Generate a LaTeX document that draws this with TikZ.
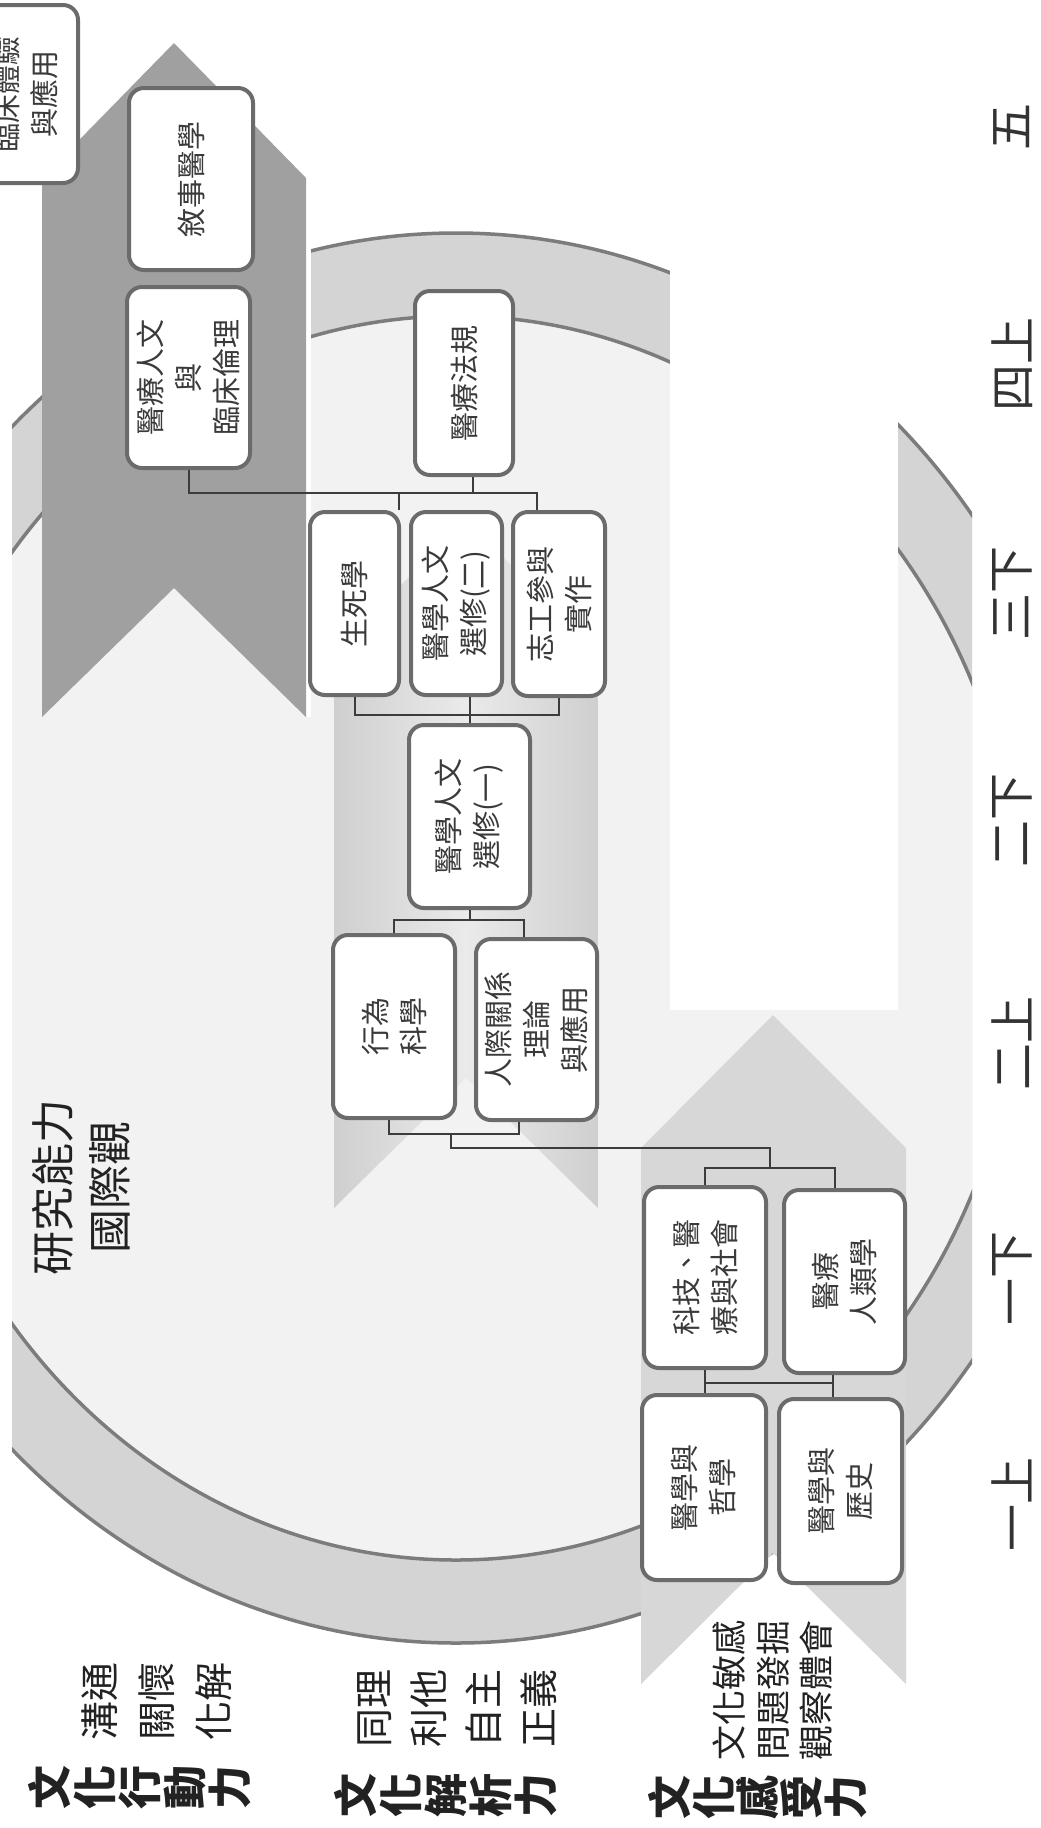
\documentclass[tikz,border=0pt]{standalone}
\usepackage{fontspec}
\newfontfamily\cjk{Noto Sans CJK TC}
\usetikzlibrary{calc}
\definecolor{ringband}{HTML}{D4D4D4}
\definecolor{ringin}{HTML}{F2F2F2}
\definecolor{ringline}{HTML}{7C7C7C}
\definecolor{darkarrow}{HTML}{A0A0A0}
\definecolor{midedge}{HTML}{CFCFCF}
\definecolor{midcenter}{HTML}{EAEAEA}
\definecolor{botchev}{HTML}{D7D7D7}
\definecolor{boxline}{HTML}{6B6B6B}
\definecolor{boxtext}{HTML}{3A3A3A}
\definecolor{conncolor}{HTML}{3C3C3C}
\definecolor{labeltext}{HTML}{222222}
\definecolor{yeartext}{HTML}{333333}
\begin{document}
\begin{tikzpicture}[x=0.5pt,y=-0.5pt,
  box/.style={draw=boxline, line width=2pt, fill=white, rounded corners=7.5pt, rotate=90,
    align=center, inner sep=0pt, text=boxtext, font=\cjk\fontsize{14.5}{19}\selectfont},
  conn/.style={draw=conncolor, line width=1pt},
  lab/.style={rotate=90, align=center, inner sep=0pt, text=labeltext},
  yearlab/.style={rotate=90, inner sep=0pt, text=yeartext, font=\cjk\fontsize{23.5}{28}\selectfont}
]
\useasboundingbox (0,0) rectangle (1040,1828);
\clip (0,0) rectangle (1040,1828);
\fill[white] (0,0) rectangle (1040,1828);

% ring
\begin{scope}
  \clip (12,0) rectangle (972,1828);
  \fill[ringband] (456,938) ellipse [x radius=322.5pt, y radius=352.5pt];
  \fill[ringin] (456,938) ellipse [x radius=283pt, y radius=311pt];
  \draw[ringline, line width=1.75pt] (456,938) ellipse [x radius=322.5pt, y radius=352.5pt];
  \draw[ringline, line width=1.75pt] (456,938) ellipse [x radius=283pt, y radius=311pt];
\end{scope}
\fill[white] (670,0) rectangle (898,1010);
\fill[white] (306,200) rectangle (311,717);

% chevrons
\fill[darkarrow] (42,178) -- (174,43) -- (306,178) -- (306,717) -- (174,588) -- (42,717) -- cycle;
\shade[left color=midedge, right color=midedge, middle color=midcenter]
  (334,652) -- (466,520) -- (598,652) -- (598,1208) -- (466,1078) -- (334,1208) -- cycle;
\fill[botchev] (641,1148) -- (773,1015) -- (906,1148) -- (906,1684) -- (773,1553) -- (641,1684) -- cycle;

% boxes
\node[box, minimum width=89pt, minimum height=53pt] (clinical) at (25,94) {臨床體驗\\與應用};
\node[box, minimum width=91pt, minimum height=62pt] (narrative) at (191,179) {敘事醫學};
\node[box, minimum width=90.5pt, minimum height=61.5pt] (ethics) at (188.5,377.5) {醫療人文\\與\\臨床倫理};
\node[box, minimum width=92pt, minimum height=49pt] (law) at (464,383) {醫療法規};
\node[box, minimum width=91.5pt, minimum height=44.5pt] (death) at (354.5,603.5) {生死學};
\node[box, minimum width=91.5pt, minimum height=45.5pt] (sel2) at (456.5,603.5) {醫學人文\\選修(二)};
\node[box, minimum width=92pt, minimum height=46pt] (volunteer) at (559,604) {志工參與\\實作};
\node[box, minimum width=91.5pt, minimum height=60.5pt] (sel1) at (469.5,816.5) {醫學人文\\選修(一)};
\node[box, minimum width=91.5pt, minimum height=61pt] (behav) at (394,1026.5) {行為\\科學};
\node[box, minimum width=90.5pt, minimum height=60.5pt] (interp) at (536.5,1029.5) {人際關係\\理論\\與應用};
\node[box, minimum width=90.5pt, minimum height=61pt] (tech) at (705,1277.5) {科技、醫\\療與社會};
\node[box, minimum width=91.5pt, minimum height=60.5pt] (anthro) at (844.5,1281.5) {醫療\\人類學};
\node[box, minimum width=92.5pt, minimum height=62pt] (philo) at (704,1487.5) {醫學與\\哲學};
\node[box, minimum width=92pt, minimum height=61.5pt] (history) at (840.5,1491) {醫學與\\歷史};

% connector reference coordinates
\coordinate (r4) at (0,493);
\coordinate (r3) at (0,715);
\coordinate (r2) at (0,920);
\coordinate (r1a) at (0,1134);
\coordinate (r1b) at (0,1148);
\coordinate (r1c) at (0,1168);
\coordinate (r0) at (0,1383);
\coordinate (v4a) at ($(volunteer.east)+(-22,0)$);
\coordinate (lawx) at ($(law.west)+(9,0)$);
\coordinate (d4a) at ($(death.east)+(44,0)$);
\coordinate (i2a) at ($(interp.east)+(-13,0)$);
\coordinate (b1) at ($(behav.west)+(-5,0)$);
\coordinate (i1) at ($(interp.west)+(-18,0)$);
\coordinate (k1) at ($(b1)!0.48!(i1)$);
\coordinate (a1) at ($(anthro.east)+(-9.5,0)$);
\coordinate (k2) at ($(tech.east)!0.5!(a1)$);
\coordinate (a0) at ($(anthro.west)+(-12,0)$);

% connectors: 4 up <-> 3 down
\draw[conn] (ethics.west) -- (ethics.west |- r4) -- (v4a |- r4) -- (v4a);
\draw[conn] (lawx) -- (lawx |- r4);
\draw[conn] (d4a |- r4) -- (d4a);
% 3 down <-> 2 down
\draw[conn] (death.west) -- (death.west |- r3) -- (volunteer.west |- r3) -- (volunteer.west);
\draw[conn] (sel1.east) -- (sel1.east |- sel2.west);
% 2 down <-> 2 up
\draw[conn] (sel1.west) -- (sel1.west |- r2);
\draw[conn] (behav.east) -- (behav.east |- r2) -- (i2a |- r2) -- (i2a);
% 2 up <-> 1 down
\draw[conn] (b1) -- (b1 |- r1a) -- (i1 |- r1a) -- (i1);
\draw[conn] (k1 |- r1a) -- (k1 |- r1b) -- (k2 |- r1b) -- (k2 |- r1c);
\draw[conn] (tech.east) -- (tech.east |- r1c) -- (a1 |- r1c) -- (a1);
% 1 down <-> 1 up
\draw[conn] (tech.west) -- (tech.west |- philo.east);
\draw[conn] (a0) -- (a0 |- history.east);
\draw[conn] (tech.west |- r0) -- (a0 |- r0);

% labels
\node[lab, font=\cjk\fontsize{22}{28.5}\selectfont] (research) at (81,1187) {研究能力\\國際觀};

\node[lab, font=\cjk\bfseries\fontsize{22}{22.5}\selectfont] (g1b) at (139.5,1787) {文\\化\\行\\動\\力};
\node[lab, font=\cjk\fontsize{19.5}{28.5}\selectfont] (g1n) at (156.5,1701) {溝通\\關懷\\化解};

\node[lab, font=\cjk\bfseries\fontsize{22}{22.5}\selectfont] (g2b) at (446,1795) {文\\化\\解\\析\\力};
\node[lab, font=\cjk\fontsize{19.5}{27.5}\selectfont] (g2n) at (457.5,1708) {同理\\利他\\自主\\正義};

\node[lab, font=\cjk\bfseries\fontsize{22}{22}\selectfont] (g3b) at (758,1797) {文\\化\\感\\受\\力};
\node[lab, font=\cjk\fontsize{17.5}{21.75}\selectfont] (g3n) at (773,1690) {文化敏感\\問題發掘\\觀察體會};

% years
\node[yearlab] (y5) at (1012,127) {五};
\node[yearlab] (y4a) at (1012,364) {四上};
\node[yearlab] (y3b) at (1012,593) {三下};
\node[yearlab] (y2b) at (1012,820) {二下};
\node[yearlab] (y2a) at (1012,1043) {二上};
\node[yearlab] (y1b) at (1012,1278) {一下};
\node[yearlab] (y1a) at (1012,1504) {一上};
\end{tikzpicture}
\end{document}
